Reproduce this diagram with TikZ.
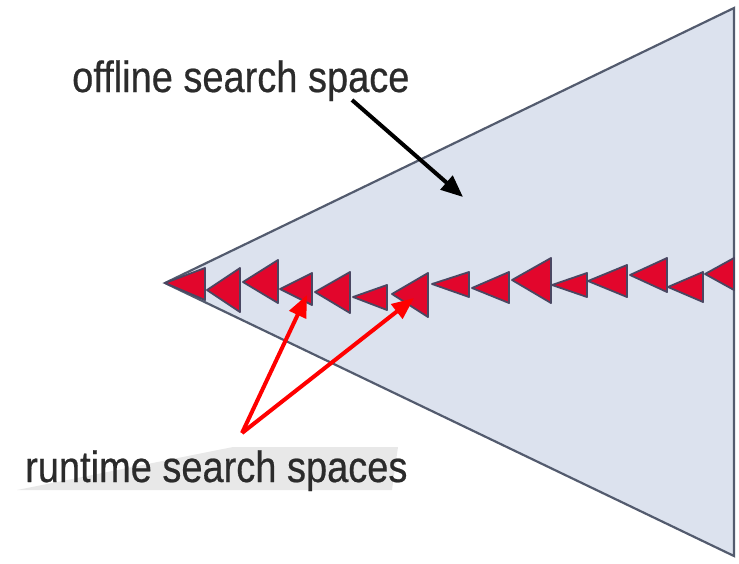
\documentclass[tikz,border=0pt]{standalone}
\usepackage{fontspec}
\usepackage{graphicx}
\setmainfont{Liberation Sans}
\newfontfamily\labelfont[FakeBold=0.5]{Liberation Sans}
\usetikzlibrary{arrows.meta}
\definecolor{spacefill}{HTML}{DCE2EE}
\definecolor{spaceedge}{HTML}{535B6E}
\definecolor{rtred}{HTML}{E2062C}
\definecolor{rtedge}{HTML}{4A4762}
\definecolor{labelgray}{HTML}{2B2B2B}
\definecolor{bandgray}{HTML}{E8E8E8}
\tikzset{
  bigspace/.style={fill=spacefill, draw=spaceedge, line width=2.2pt, line join=miter},
  rtspace/.style={fill=rtred, draw=rtedge, line width=1.8pt, line join=round},
  labeltext/.style={anchor=base west, inner sep=0pt, text=labelgray, font=\labelfont\fontsize{38}{44}\selectfont},
  blackarrow/.style={draw=black, line width=4pt, -{Triangle[length=22pt,width=18pt]}},
  redarrow/.style={draw=red, line width=4pt, -{Triangle[length=22pt,width=18pt]}}
}
\newcommand{\rttri}[6]{\draw[rtspace] (#1,#2) -- (#3,#4) -- (#3,#5) -- cycle;}
\begin{document}
\begin{tikzpicture}[x=1pt,y=-1pt]
\useasboundingbox (0,0) rectangle (739,563);
% faint band behind lower label
\fill[bandgray] (233,447) -- (398,447) -- (392,490) -- (17,490) -- cycle;
% offline search space
\draw[bigspace] (165,283) -- (734,8) -- (734,556) -- cycle;
% runtime search spaces
\rttri{165}{283}{205}{268}{300}{}
\rttri{207}{290}{240}{268}{312}{}
\rttri{243}{282}{278}{260}{303}{}
\rttri{280}{289}{312}{273}{305}{}
\rttri{315}{292}{350}{272}{313}{}
\rttri{353}{297}{387}{285}{310}{}
\rttri{392}{294}{428}{273}{317}{}
\rttri{432}{284}{469}{272}{297}{}
\rttri{472}{288}{509}{272}{303}{}
\rttri{512}{280}{551}{258}{303}{}
\rttri{552}{285}{587}{273}{297}{}
\rttri{588}{281}{627}{265}{297}{}
\rttri{630}{275}{667}{258}{292}{}
\rttri{668}{287}{703}{272}{302}{}
\rttri{705}{274}{734}{258}{290}{}
% labels
\node[labeltext] (offl) at (72,92) {\scalebox{1}[1.15]{offline search space}};
\node[labeltext] (runt) at (25,482) {\scalebox{1}[1.15]{runtime search spaces}};
% arrow coordinates
\coordinate (bstart) at (352,100);
\coordinate (bend) at (463,197);
\coordinate (rstart) at (242,433);
\coordinate (rend1) at (307,295);
\coordinate (rend2) at (414,298);
\draw[blackarrow] (bstart) -- (bend);
\draw[redarrow] (rstart) -- (rend1);
\draw[redarrow] (rstart) -- (rend2);
\end{tikzpicture}
\end{document}
